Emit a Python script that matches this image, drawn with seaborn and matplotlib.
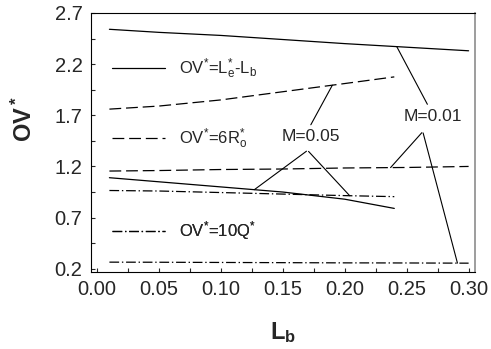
import numpy as np
import pandas as pd
import seaborn as sns
import matplotlib.pyplot as plt
from matplotlib.lines import Line2D
from matplotlib.ticker import MultipleLocator

# values
lb_m001 = [0.01, 0.05, 0.10, 0.15, 0.20, 0.25, 0.30]
le_m001 = [2.54, 2.51, 2.48, 2.44, 2.40, 2.365, 2.33]
ro_m001 = [1.155, 1.16, 1.17, 1.175, 1.185, 1.19, 1.20]
q_m001 = [0.265, 0.264, 0.262, 0.26, 0.258, 0.257, 0.255]

lb_m005 = [0.01, 0.05, 0.10, 0.15, 0.20, 0.24]
le_m005 = [1.09, 1.05, 1.00, 0.95, 0.88, 0.79]
ro_m005 = [1.76, 1.79, 1.85, 1.93, 2.01, 2.075]
q_m005 = [0.965, 0.96, 0.945, 0.93, 0.915, 0.905]

kinds = ['Le-Lb', '6Ro', '10Q']
legend_labels = [r'OV$^{*}$=L$_{e}^{*}$-L$_{b}$', r'OV$^{*}$=6R$_{o}^{*}$', r'OV$^{*}$=10Q$^{*}$']

rows = []
for m, lb, series in [('0.01', lb_m001, [le_m001, ro_m001, q_m001]),
                      ('0.05', lb_m005, [le_m005, ro_m005, q_m005])]:
    for kind, vals in zip(kinds, series):
        for x, y in zip(lb, vals):
            rows.append({'Lb': x, 'OV': y, 'M': m, 'kind': kind})
df = pd.DataFrame(rows)

sns.set_style("ticks")
plt.rcParams['font.family'] = ['Liberation Sans', 'DejaVu Sans']
plt.rcParams['mathtext.fontset'] = 'custom'
plt.rcParams['mathtext.rm'] = 'Liberation Sans'
plt.rcParams['mathtext.it'] = 'Liberation Sans:italic'
plt.rcParams['mathtext.bf'] = 'Liberation Sans:bold'
plt.rcParams['mathtext.default'] = 'regular'
plt.rcParams['lines.scale_dashes'] = False

dash_styles = {'Le-Lb': '', '6Ro': (8.5, 3.5), '10Q': (7, 2, 1, 2)}

fig, ax = plt.subplots(figsize=(4.91, 3.49), dpi=100)
fig.subplots_adjust(left=0.185, right=0.967, bottom=0.221, top=0.963)

sns.lineplot(data=df, x='Lb', y='OV', style='kind', units='M', estimator=None,
             dashes=dash_styles, color='black', linewidth=0.9, legend=False,
             sort=False, ax=ax)

ax.set_xlim(-0.005, 0.305)
ax.set_ylim(0.17, 2.7)
ax.xaxis.set_major_locator(MultipleLocator(0.05))
ax.xaxis.set_minor_locator(MultipleLocator(0.025))
ax.set_yticks([0.2, 0.7, 1.2, 1.7, 2.2, 2.7])
ax.set_yticks([0.45, 0.95, 1.45, 1.95, 2.45], minor=True)
ax.xaxis.set_major_formatter(plt.FormatStrFormatter('%.2f'))
ax.yaxis.set_major_formatter(plt.FormatStrFormatter('%.1f'))
ax.tick_params(which='both', direction='in', length=3, width=0.8,
               top=False, right=False, labelsize=14.5, pad=6)
for side in ['left', 'bottom', 'top']:
    ax.spines[side].set_color('black')
    ax.spines[side].set_linewidth(0.8)
ax.spines['right'].set_color('0.55')
ax.spines['right'].set_linewidth(1.2)

ax.set_xlabel(r'$\mathbf{L_b}$', fontsize=17)
ax.set_ylabel(r'$\mathbf{OV^*}$', fontsize=17)
ax.xaxis.set_label_coords(0.5, -0.185)
ax.yaxis.set_label_coords(-0.14, 0.59)

# in-plot key, one row per line style
key_rows = [0.784, 0.514, 0.158]
for kind, label, yy in zip(kinds, legend_labels, key_rows):
    h = Line2D([], [], color='black', linewidth=0.9)
    if dash_styles[kind]:
        h.set_dashes(dash_styles[kind])
    leg = ax.legend([h], [label], loc='center left', bbox_to_anchor=(0.055, yy),
                    frameon=False, fontsize=12, handlelength=3.2,
                    handletextpad=0.8, borderpad=0, borderaxespad=0)
    ax.add_artist(leg)


def on_curve(xs, ys, x):
    return (x, float(np.interp(x, xs, ys)))


line_kw = dict(arrowstyle='-', color='black', linewidth=0.8, shrinkA=1, shrinkB=0)

# M=0.01 callouts
t01 = (0.271, 1.69)
ax.annotate('M=0.01', xy=on_curve(lb_m001, le_m001, 0.242), xytext=t01,
            ha='center', va='center', fontsize=12.5,
            arrowprops=dict(relpos=(0.45, 1.0), **line_kw))
for xs, ys, x in [(lb_m001, ro_m001, 0.237), (lb_m001, q_m001, 0.291)]:
    ax.annotate('', xy=on_curve(xs, ys, x), xytext=(0.263, 1.54),
                arrowprops=dict(**line_kw))

# M=0.05 callouts
t05 = (0.173, 1.49)
ax.annotate('M=0.05', xy=on_curve(lb_m005, ro_m005, 0.19), xytext=t05,
            ha='center', va='center', fontsize=12.5,
            arrowprops=dict(relpos=(0.45, 1.0), **line_kw))
for xs, ys, x in [(lb_m005, le_m005, 0.127), (lb_m005, q_m005, 0.204)]:
    ax.annotate('', xy=on_curve(xs, ys, x), xytext=(0.170, 1.357),
                arrowprops=dict(**line_kw))

plt.savefig('out.png', dpi=100)
